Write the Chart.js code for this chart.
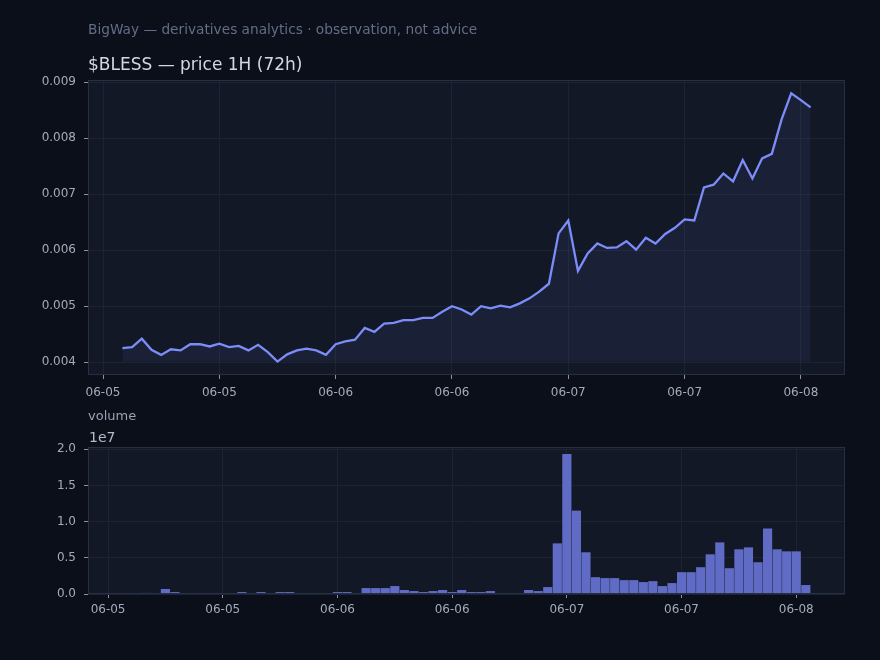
<!DOCTYPE html>
<html>
<head>
<meta charset="utf-8">
<script src="https://cdn.jsdelivr.net/npm/chart.js@4.4.1/dist/chart.umd.min.js"></script>
<style>
  html, body { margin: 0; padding: 0; background: #0a0f1a; }
  #wrap { position: relative; width: 880px; height: 660px; overflow: hidden; font-family: "DejaVu Sans", sans-serif; }
  .txt { position: absolute; left: 88px; white-space: nowrap; line-height: 1; }
  #sub { top: 23px; font-size: 13.7px; color: #636d88; }
  #title { top: 56px; font-size: 17px; color: #d3d8e2; }
  #vol { top: 409px; font-size: 13px; color: #9aa2b3; }
  #exp { top: 430px; left: 89px; font-size: 14px; color: #b4bbc9; }
  canvas { position: absolute; left: 0; }
  #price { top: 0; }
  #volume { top: 410px; }
</style>
</head>
<body>
<div id="wrap">
  <canvas id="price" width="880" height="410"></canvas>
  <canvas id="volume" width="880" height="250"></canvas>
  <div class="txt" id="sub">BigWay — derivatives analytics · observation, not advice</div>
  <div class="txt" id="title">$BLESS — price 1H (72h)</div>
  <div class="txt" id="vol">volume</div>
  <div class="txt" id="exp">1e7</div>
</div>
<script>
// hours after 06-05 00:00, one bar / point per hour
const hours = [2,3,4,5,6,7,8,9,10,11,12,13,14,15,16,17,18,19,20,21,22,23,24,25,
  26,27,28,29,30,31,32,33,34,35,36,37,38,39,40,41,42,43,44,45,46,47,48,49,
  50,51,52,53,54,55,56,57,58,59,60,61,62,63,64,65,66,67,68,69,70,71,72,73];

const price = [0.00425,0.00427,0.00442,0.00422,0.00413,0.00423,0.00421,0.00432,0.00432,0.00428,
  0.00433,0.00427,0.00429,0.00421,0.00431,0.00418,0.00401,0.00414,0.00421,0.00424,
  0.00421,0.00413,0.00432,0.00437,0.00440,0.00461,0.00454,0.00469,0.00470,0.00475,
  0.00475,0.00479,0.00479,0.00490,0.00500,0.00494,0.00485,0.00500,0.00496,0.00501,
  0.00498,0.00505,0.00514,0.00526,0.00540,0.00630,0.00653,0.00563,0.00594,0.00612,
  0.00604,0.00605,0.00616,0.00601,0.00622,0.00612,0.00629,0.00640,0.00655,0.00653,
  0.00712,0.00717,0.00737,0.00723,0.00761,0.00728,0.00764,0.00772,0.00833,0.00880,
  0.00868,0.00855];

const volume = [130000,140000,150000,140000,690000,270000,140000,130000,140000,140000,
  130000,140000,270000,140000,270000,140000,270000,270000,140000,140000,
  130000,140000,270000,270000,140000,820000,820000,820000,1100000,550000,
  410000,270000,410000,550000,270000,550000,270000,270000,410000,140000,
  140000,140000,550000,410000,960000,7000000,19360000,11530000,5770000,2330000,
  2200000,2200000,1920000,1920000,1650000,1780000,1100000,1510000,3020000,3020000,
  3710000,5490000,7140000,3570000,6180000,6450000,4390000,9060000,6180000,5900000,
  5900000,1240000];

const tickHours = [0, 12, 24, 36, 48, 60, 72];
const tickLabels = ["06-05", "06-05", "06-06", "06-06", "06-07", "06-07", "06-08"];
const priceTicks = [0.004, 0.005, 0.006, 0.007, 0.008, 0.009];
const volumeTicks = [0, 5000000, 10000000, 15000000, 20000000];
const volumeTickLabels = ["0.0", "0.5", "1.0", "1.5", "2.0"];

const tickColor = "#a3abbb";
const gridColor = "#1c2332";
const tickMarkColor = "#8a93a6";
const font = { family: "DejaVu Sans", size: 12 };

Chart.defaults.font.family = "DejaVu Sans";

const panel = {
  id: "panel",
  beforeDraw(chart) {
    const { ctx, chartArea: a } = chart;
    ctx.save();
    ctx.fillStyle = "#121826";
    ctx.fillRect(a.left, a.top, a.width, a.height);
    ctx.restore();
  },
  afterDraw(chart) {
    const { ctx, chartArea: a } = chart;
    ctx.save();
    ctx.strokeStyle = "#263042";
    ctx.lineWidth = 1;
    ctx.strokeRect(a.left + 0.5, a.top + 0.5, a.width - 1, a.height - 1);
    ctx.restore();
  },
};

function xAxis(min, max, h, pad) {
  return {
    type: "linear",
    min: min,
    max: max,
    offset: false,
    z: 1,
    afterBuildTicks: (s) => { s.ticks = tickHours.map((v) => ({ value: v })); },
    afterFit: (s) => { s.height = h; },
    ticks: {
      color: tickColor, font: font, padding: pad, maxRotation: 0, autoSkip: false,
      callback: (v, i) => tickLabels[i],
    },
    grid: { color: gridColor, tickColor: tickMarkColor, tickLength: 4, offset: false },
    border: { display: false },
  };
}

const pMin = Math.min(...price), pMax = Math.max(...price);
const pPad = (pMax - pMin) * 0.05;

new Chart(document.getElementById("price"), {
  type: "line",
  data: {
    datasets: [{
      data: hours.map((h, i) => ({ x: h, y: price[i] })),
      borderColor: "#7c8cf8",
      borderWidth: 2.3,
      backgroundColor: "rgba(124, 140, 248, 0.08)",
      fill: { value: pMin },
      pointRadius: 0,
      tension: 0,
    }],
  },
  options: {
    responsive: false,
    animation: false,
    layout: { padding: { top: 80, right: 35, left: 0, bottom: 0 } },
    plugins: { legend: { display: false }, tooltip: { enabled: false } },
    scales: {
      x: xAxis(-1.55, 76.55, 35, 7),
      y: {
        min: pMin - pPad,
        max: pMax + pPad,
        z: 1,
        afterBuildTicks: (s) => { s.ticks = priceTicks.map((v) => ({ value: v })); },
        afterFit: (s) => { s.width = 88; },
        ticks: { color: tickColor, font: font, padding: 8, callback: (v) => v.toFixed(3) },
        grid: { color: gridColor, tickColor: tickMarkColor, tickLength: 4 },
        border: { display: false },
      },
    },
  },
  plugins: [panel],
});

const vMax = Math.max(...volume) * 1.05;

new Chart(document.getElementById("volume"), {
  type: "bar",
  data: {
    datasets: [{
      data: hours.map((h, i) => ({ x: h, y: volume[i] })),
      backgroundColor: "#5f6bc4",
      barPercentage: 0.96,
      categoryPercentage: 1,
    }],
  },
  options: {
    responsive: false,
    animation: false,
    layout: { padding: { top: 37, right: 35, left: 0, bottom: 0 } },
    plugins: { legend: { display: false }, tooltip: { enabled: false } },
    scales: {
      x: xAxis(-2.1, 77.1, 66, 5),
      y: {
        min: 0,
        max: vMax,
        z: 1,
        afterBuildTicks: (s) => { s.ticks = volumeTicks.map((v) => ({ value: v })); },
        afterFit: (s) => { s.width = 88; },
        ticks: { color: tickColor, font: font, padding: 8, callback: (v, i) => volumeTickLabels[i] },
        grid: { color: gridColor, tickColor: tickMarkColor, tickLength: 4 },
        border: { display: false },
      },
    },
  },
  plugins: [panel],
});
</script>
</body>
</html>
